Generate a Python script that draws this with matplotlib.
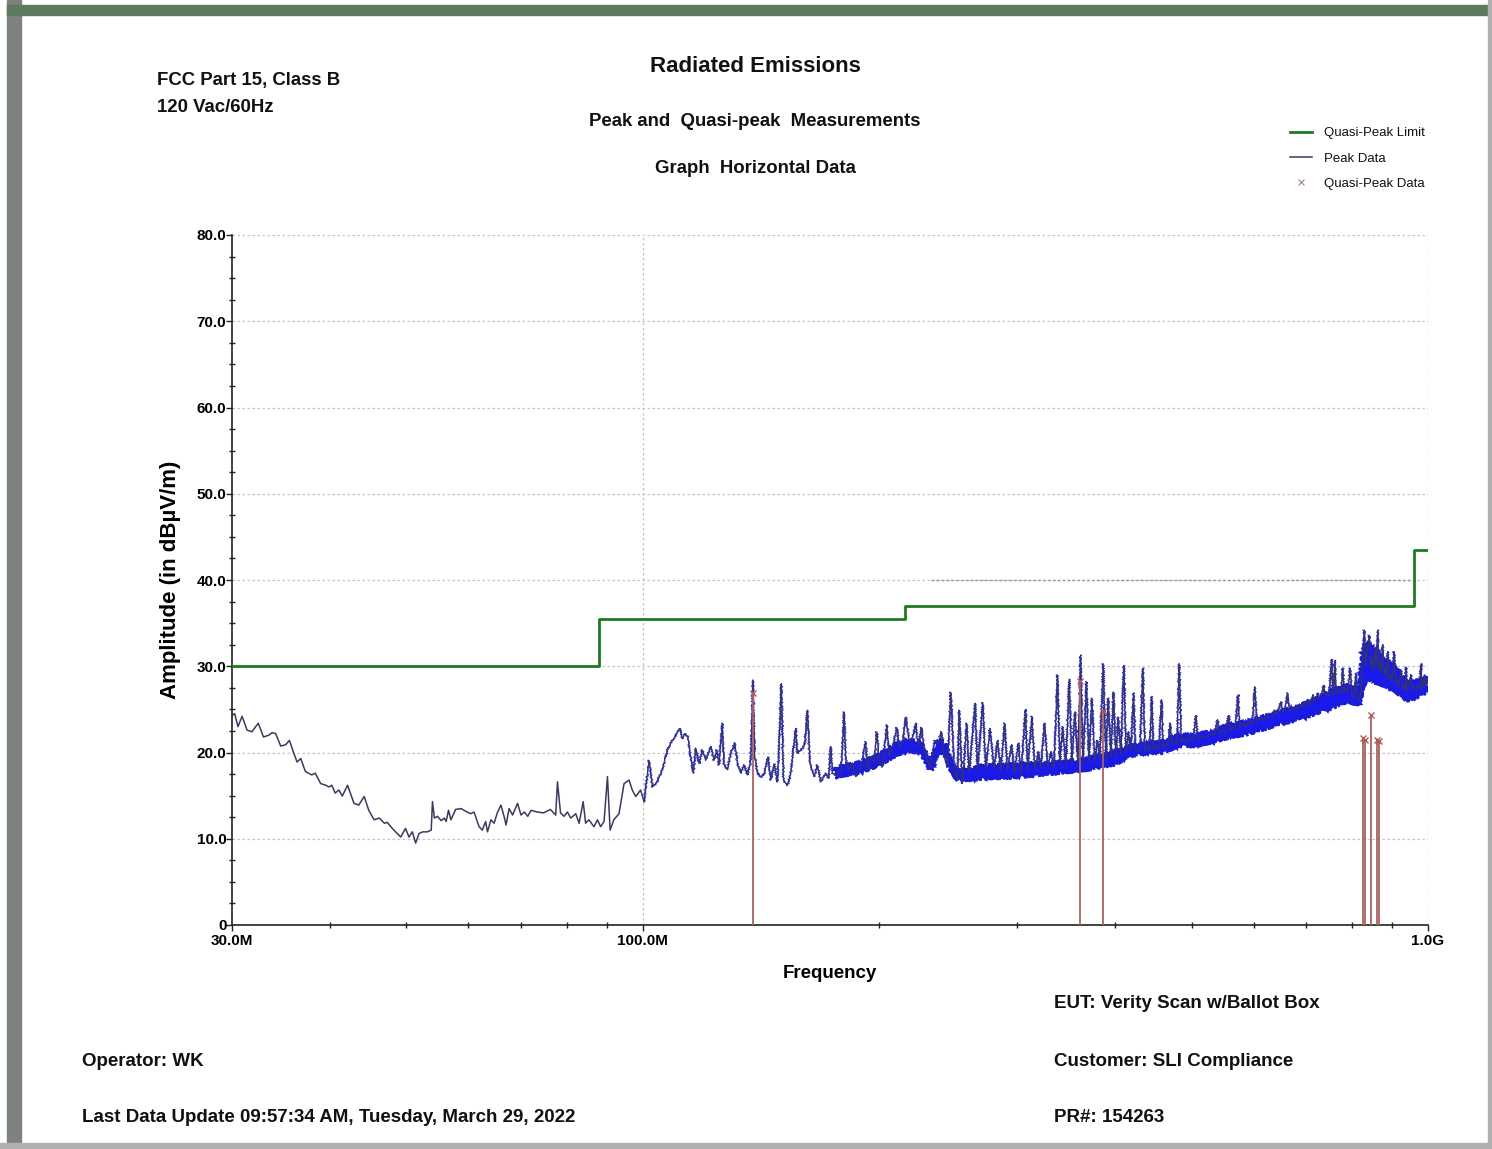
import matplotlib
matplotlib.use('Agg')
import matplotlib.pyplot as plt
from matplotlib.lines import Line2D
from matplotlib.patches import Rectangle, Polygon
from matplotlib.ticker import FixedLocator, FixedFormatter, NullFormatter

FONT = ['Liberation Sans', 'DejaVu Sans']
plt.rcParams['font.family'] = FONT

# ---------------- data ----------------
limit_freq = [30, 88, 216, 960, 1000]
limit_amp = [30.0, 35.5, 37.0, 43.5, 43.5]

peak_freq = [
    30.0, 30.24, 30.53, 30.9, 31.35, 31.8, 32.4, 32.9, 33.4, 33.75, 34.1, 34.6, 35.1, 35.5,
    35.97, 36.3, 36.7, 37.2, 37.9, 38.3, 38.9, 39.5, 39.85, 40.2, 40.6, 41.05, 41.45, 42.1,
    42.9, 43.5, 44.2, 44.8, 45.5, 46.2, 46.9, 47.3, 48.0, 48.7, 49.2, 49.9, 50.4, 50.9, 51.4,
    51.9, 52.5, 53.2, 53.8, 54.0, 54.3, 54.8, 55.4, 55.9, 56.2, 56.6, 57.0, 57.8, 58.7, 59.5,
    60.4, 61.0, 61.9, 62.5, 63.1, 63.45, 64.1, 64.7, 65.3, 66.0, 66.7, 67.0, 67.6, 68.3, 69.3,
    70.0, 70.7, 71.4, 72.1,
    73.4, 74.8, 76.3, 77.5, 77.9, 78.6, 79.4, 80.2, 81.0, 82.2, 83.0, 84.0, 84.6, 85.4, 86.7,
    87.6, 88.4, 89.3, 90.2, 90.9, 91.9, 93.3, 94.7, 96.1, 97.0, 98.0, 99.4, 100.4, 101.9,
    102.9, 104.4, 105.9, 107.5, 108.6, 110.2, 111.6, 112.3, 113.1, 114.2, 115.1, 116.0, 116.8,
    118.0, 119.1, 120.3, 122.1, 123.3, 124.3, 125.1, 126.3, 126.9, 128.2, 129.5, 131.0, 132.3,
    133.3, 134.6, 136.0, 137.3, 138.2, 138.9, 140.0, 141.4, 142.7, 144.4, 145.6, 147.0, 148.5,
    150.2, 151.1, 152.9, 154.4, 156.6, 157.4, 159.7, 160.8, 162.1, 163.4, 165.3, 166.9, 168.6,
    171.1, 172.5, 173.6,
    174.5, 177.0, 179.0, 180.5, 181.4, 183.1, 185.0, 186.8, 189.5, 192.3, 193.3, 195.2, 197.0,
    198.7, 200.0, 202.0, 204.6, 206.0, 208.0, 210.7, 212.1, 214.2, 216.3, 218.4, 220.8, 222.7,
    224.2, 226.5, 228.2, 230.5, 232.7, 235.5, 237.8, 240.2, 242.0, 244.4, 246.8, 249.2, 251.7,
    252.9, 255.4, 258.6, 260.4, 265.0, 266.9, 271.1, 273.5, 276.9, 280.2, 283.0, 285.8, 288.9,
    291.5, 294.9, 297.2, 301.0, 303.0, 307.3, 309.1, 313.0, 315.8, 318.9, 321.4, 324.9, 328.0,
    330.9, 333.9, 337.5, 339.8, 342.5, 345.9, 349.2, 352.0, 355.1, 358.2, 361.1, 363.5, 367.5,
    370.0, 373.3, 376.5, 379.5, 382.1, 385.8, 388.9, 391.5, 394.7, 397.8, 400.4, 403.2, 406.4,
    409.9, 412.4, 415.6, 418.5,
    421.8, 424.0, 427.2, 430.0, 433.4, 436.0, 438.6, 442.0, 445.0, 447.0, 450.3, 454.0, 457.9,
    460.0, 463.7, 466.0, 469.6, 472.0, 476.1, 479.0, 482.2, 485.0, 488.9, 492.0, 496.1, 501.9,
    506.5, 509.0, 513.8, 521.5, 529.2, 535.0, 539.7, 542.0, 548.2, 552.0, 557.4, 560.0, 564.5,
    568.0, 572.9, 576.0, 581.2, 586.0, 591.6, 597.0, 602.0, 605.0, 612.8, 618.0, 623.6, 630.0,
    635.0, 638.4, 642.0, 649.7, 653.0, 657.0, 662.7, 666.0, 671.2, 675.0, 678.9, 682.0, 687.0,
    691.0, 695.7, 700.0, 705.4, 709.0, 713.1, 716.0, 720.0, 723.7, 727.0, 730.7, 736.5, 740.0,
    743.6, 748.0, 754.0, 757.0, 761.3, 764.0, 770.3, 775.0, 778.7, 782.0, 786.3, 790.0, 796.2,
    800.0, 804.0, 809.7, 813.0, 816.8, 821.5, 825.0, 829.7, 833.0, 836.2, 841.8, 845.0, 848.6,
    852.0, 856.1, 859.0, 862.9, 866.0, 868.8, 872.0, 875.7, 879.0, 881.5, 885.0, 888.7, 892.0,
    897.3, 900.0, 906.0, 909.0, 913.2, 918.0, 923.9, 928.0, 932.1, 935.0, 937.6, 941.0, 945.0,
    951.4, 955.0, 959.9, 965.0, 971.3, 975.0, 979.8, 983.0, 986.0, 989.3, 993.0, 997.1, 1000.0,
]
peak_amp = [
    24.3, 24.5, 23.0, 24.2, 22.6, 22.4, 23.4, 21.8, 22.0, 22.3, 22.2, 20.75, 20.9, 21.4,
    19.9, 18.9, 19.3, 17.8, 17.4, 17.6, 16.4, 16.2, 16.0, 16.2, 15.3, 15.65, 14.95, 16.2,
    14.1, 13.9, 14.9, 13.3, 12.2, 12.4, 11.8, 11.9, 11.2, 10.6, 10.2, 11.2, 10.2, 10.8, 9.5,
    10.6, 10.8, 10.8, 11.0, 14.3, 12.4, 12.6, 12.1, 12.4, 12.0, 13.3, 12.2, 13.4, 13.5, 13.2,
    12.9, 13.1, 11.4, 11.0, 12.0, 10.8, 12.2, 11.8, 13.0, 13.9, 12.4, 11.6, 13.5, 12.75, 14.1,
    12.75, 13.1, 12.6, 13.3,
    13.1, 13.0, 13.4, 12.75, 16.6, 13.0, 12.6, 13.1, 12.4, 12.9, 11.8, 14.3, 11.8, 12.2, 11.4,
    12.2, 11.4, 12.0, 17.2, 11.0, 12.2, 12.9, 16.4, 16.8, 15.65, 14.9, 15.65, 14.3, 19.1,
    16.0, 16.6, 18.0, 20.3, 21.1, 22.0, 22.8, 21.6, 22.2, 21.8, 19.5, 17.6, 20.5,
    18.7, 20.3, 19.1, 20.7, 19.1, 20.3, 18.55, 23.4, 18.7, 18.0, 19.9, 21.1, 18.35,
    17.6, 18.55, 17.4, 19.1, 28.4, 19.5, 17.6, 17.2, 17.4, 19.5, 16.8, 18.7, 16.6,
    28.0, 16.8, 16.2, 17.6, 22.8, 19.9, 20.5, 20.9, 24.9, 18.7, 17.2, 18.55, 16.6,
    17.6, 17.0, 20.7,
    17.6, 17.2, 18.0, 24.7, 19.1, 18.0, 18.8, 17.2, 18.2, 21.25, 18.0, 19.5, 18.8,
    22.4, 19.1, 18.35, 23.2, 19.7, 20.5, 22.9, 20.7, 21.1, 24.1, 21.4, 21.8, 23.4,
    20.7, 22.9, 20.3, 19.1, 18.2, 21.4, 21.1, 22.4, 19.5, 18.35, 27.0, 18.0, 16.8,
    24.9, 16.4, 23.4, 17.6, 25.7, 18.0, 25.8, 18.0, 22.8, 18.2, 21.4, 17.8, 23.4,
    18.0, 20.9, 17.6, 21.1, 17.4, 25.0, 17.8, 24.2, 18.0, 20.1, 18.2, 23.4, 18.4,
    20.1, 18.2, 29.0, 18.6, 23.0, 18.6, 28.5, 18.8, 24.7, 18.8, 31.3, 18.8, 28.2,
    19.0, 26.3, 19.0, 21.4, 19.2, 30.3, 19.0, 26.3, 19.4, 27.0, 19.4, 24.1, 19.8,
    30.1, 20.1, 22.4, 20.3,
    26.9, 20.3, 20.0, 20.6, 29.8, 20.3, 20.8, 20.2, 26.5, 20.4, 20.9, 20.5, 26.1,
    20.6, 21.1, 20.8, 23.4, 21.0, 21.3, 21.0, 30.3, 21.2, 21.6, 21.2, 21.8, 21.4,
    24.3, 21.6, 21.9, 21.7, 22.2, 22.0, 23.8, 22.1, 22.6, 22.2, 24.3, 22.5, 22.9,
    22.6, 26.7, 22.8, 23.3, 23.0, 23.6, 23.3, 27.6, 23.6, 24.0, 23.7, 24.3, 24.1,
    24.3, 24.9, 24.4, 25.9, 24.6, 24.9, 26.9, 24.8, 25.2, 24.9, 25.5, 25.0, 25.5,
    25.2, 25.9, 25.4, 26.0, 25.6, 26.7, 25.9, 26.2, 26.9, 26.3, 26.6, 27.8, 26.6,
    26.9, 26.5, 30.8, 26.7, 30.7, 26.8, 27.2, 26.9, 29.8, 27.0, 27.4, 27.0, 29.8,
    26.8, 26.2, 29.2, 26.5, 26.0, 27.0, 30.5, 34.2, 30.0, 31.5, 33.6, 30.0, 31.0,
    29.5, 32.0, 29.8, 34.2, 29.5, 30.5, 29.3, 32.5, 29.0, 29.8, 28.6, 31.7, 28.5,
    29.0, 28.2, 31.7, 28.0, 28.5, 27.6, 29.6, 27.3, 27.8, 27.2, 29.9, 27.2, 27.6,
    29.0, 27.3, 27.7, 27.2, 27.8, 27.4, 30.3, 27.4, 27.8, 29.0, 27.6, 28.6, 28.3,
]

# dense noise band of the peak trace (read envelope)
band_freq = [176, 190, 200, 212, 218, 226, 230, 233, 238, 243, 246, 252, 270, 300, 330, 360,
             400, 420, 440, 457, 482, 506, 530, 557, 590, 620, 650, 680, 713, 754, 790, 818,
             826, 840, 860, 880, 900, 925, 940, 965, 985, 1000]
band_lo = [17.2, 17.8, 18.6, 19.9, 20.2, 20.0, 18.6, 18.0, 20.2, 19.8, 18.2, 16.8, 17.0, 17.2,
           17.6, 17.9, 18.7, 19.7, 20.0, 20.0, 20.8, 20.8, 21.2, 21.8, 22.2, 22.8, 23.4, 23.8,
           24.4, 25.2, 26.0, 25.5, 27.7, 28.6, 28.0, 27.8, 27.4, 26.6, 26.1, 26.4, 26.8, 27.1]
band_hi = [18.2, 18.9, 19.7, 21.2, 21.4, 21.2, 19.6, 19.2, 21.4, 21.0, 19.4, 17.8, 18.4, 18.6,
           18.8, 19.1, 20.1, 20.8, 21.2, 21.2, 22.0, 22.0, 22.4, 23.2, 23.6, 24.2, 24.8, 25.3,
           26.0, 27.2, 27.8, 27.4, 31.8, 32.8, 31.8, 30.8, 30.2, 29.0, 28.1, 28.2, 28.5, 28.6]

qp_freq = [138.2, 360.3, 385.5, 825.8, 831.4, 845.9, 860.3, 865.4]
qp_amp = [26.9, 28.3, 24.8, 21.7, 21.5, 24.4, 21.5, 21.3]

# darker dotted segment on the 40 dB grid line
mark40_freq = [233, 950]
mark40_amp = 40.0

x_major = [30, 100, 1000]
x_major_labels = ['30.0M', '100.0M', '1.0G']
x_minor = [40, 50, 60, 70, 80, 90, 200, 300, 400, 500, 600, 700, 800, 900]
y_major = [0, 10, 20, 30, 40, 50, 60, 70, 80]
y_major_labels = ['0', '10.0', '20.0', '30.0', '40.0', '50.0', '60.0', '70.0', '80.0']

# ---------------- figure ----------------
W, H = 1492, 1149
fig = plt.figure(figsize=(W / 100, H / 100), dpi=100)
fig.patch.set_facecolor('white')


def fx(px):
    return px / W


def fy(py):
    return 1 - py / H


# window frame
fig.add_artist(Rectangle((fx(7), 0), fx(14), 1, transform=fig.transFigure,
                         color='#7e827e', zorder=0))
fig.add_artist(Rectangle((fx(7), fy(15)), 1, fy(5) - fy(15), transform=fig.transFigure,
                         color='#5e7a5e', zorder=0))
fig.add_artist(Rectangle((fx(1488), 0), fx(4), 1, transform=fig.transFigure,
                         color='#b0b0b0', zorder=0))
fig.add_artist(Rectangle((0, 0), 1, fy(1143), transform=fig.transFigure,
                         color='#b0b0b0', zorder=0))

ax = fig.add_axes([fx(232), fy(925), fx(1428) - fx(232), fy(235) - fy(925)])
ax.set_xscale('log')
ax.set_xlim(30, 1000)
ax.set_ylim(0, 80)
ax.set_facecolor('white')

# grid
grid_kw = dict(color='#c4c4c4', lw=0.9, ls=(0, (2, 2)), zorder=0.5)
for v in y_major[1:]:
    ax.axhline(v, **grid_kw)
for v in [100, 1000]:
    ax.axvline(v, **grid_kw)
ax.hlines(mark40_amp, mark40_freq[0], mark40_freq[1], color='#9a9a9a', lw=1.0,
          ls=(0, (2, 1.5)), zorder=0.6)

# limit
ax.plot(limit_freq, limit_amp, drawstyle='steps-post', color='#1e7a1e', lw=2.0, zorder=4)

# peak trace
split = next(i for i, f in enumerate(peak_freq) if f >= 100)
ax.plot(peak_freq[:split + 1], peak_amp[:split + 1], color='#3a3a60', lw=1.1, zorder=2)
hi_sketch, = ax.plot(peak_freq[split:], peak_amp[split:], color='#2a2ad8', lw=0.7, zorder=2)
hi_sketch.set_sketch_params(scale=1.3, length=2.0, randomness=2.0)

band_vertices = list(zip(band_freq, band_hi)) + list(zip(band_freq[::-1], band_lo[::-1]))
band = Polygon(band_vertices, closed=True, facecolor='#1a1aee', edgecolor='#1c1cd8',
               lw=1.6, zorder=2.5)
band.set_sketch_params(scale=2.5, length=2.5, randomness=2.0)
ax.add_patch(band)
ax.plot(peak_freq[split:], peak_amp[split:], color='#34346e', lw=0.9, zorder=2.6)

# quasi-peak data
ax.vlines(qp_freq, 0, qp_amp, color='#a86262', lw=1.3, zorder=3.5)
ax.plot(qp_freq, qp_amp, ls='none', marker='x', ms=5, mew=1.0, color='#b05858', zorder=5)

# axes styling
for s in ['top', 'right']:
    ax.spines[s].set_visible(False)
for s in ['left', 'bottom']:
    ax.spines[s].set_color('#222222')
    ax.spines[s].set_linewidth(1.2)

ax.xaxis.set_major_locator(FixedLocator(x_major))
ax.xaxis.set_major_formatter(FixedFormatter(x_major_labels))
ax.xaxis.set_minor_locator(FixedLocator(x_minor))
ax.xaxis.set_minor_formatter(NullFormatter())
ax.yaxis.set_major_locator(FixedLocator(y_major))
ax.yaxis.set_major_formatter(FixedFormatter(y_major_labels))
ax.yaxis.set_minor_locator(FixedLocator([v * 2.5 for v in range(33) if v % 4]))

ax.tick_params(axis='both', which='major', direction='out', length=4, width=1.0,
               color='#222222', labelsize=11)
ax.tick_params(axis='y', which='major', pad=0)
ax.tick_params(axis='x', which='major', pad=2.5)
ax.tick_params(axis='both', which='minor', direction='inout', length=5, width=1.0,
               color='#222222')
for lab in ax.get_xticklabels() + ax.get_yticklabels():
    lab.set_fontweight('bold')

ax.set_ylabel('Amplitude (in dBµV/m)', fontsize=16, fontweight='bold', labelpad=11)
ax.set_xlabel('Frequency', fontsize=13.5, fontweight='bold', labelpad=12)

# titles and header text
tk = dict(fontweight='bold', color='#111111')
fig.text(fx(755), fy(67), 'Radiated Emissions', ha='center', va='center', fontsize=16, **tk)
fig.text(fx(755), fy(121), 'Peak and  Quasi-peak  Measurements', ha='center', va='center',
         fontsize=13.4, **tk)
fig.text(fx(755), fy(168), 'Graph  Horizontal Data', ha='center', va='center', fontsize=13.4, **tk)
fig.text(fx(157), fy(80), 'FCC Part 15, Class B', ha='left', va='center', fontsize=13.4, **tk)
fig.text(fx(157), fy(108), '120 Vac/60Hz', ha='left', va='center', fontsize=13.4, **tk)

fig.text(fx(1054), fy(1004), 'EUT: Verity Scan w/Ballot Box', ha='left', va='center',
         fontsize=13.5, **tk)
fig.text(fx(82), fy(1061), 'Operator: WK', ha='left', va='center', fontsize=13.5, **tk)
fig.text(fx(1054), fy(1061), 'Customer: SLI Compliance', ha='left', va='center', fontsize=13.5,
         **tk)
fig.text(fx(82), fy(1118), 'Last Data Update 09:57:34 AM, Tuesday, March 29, 2022', ha='left',
         va='center', fontsize=13.5, **tk)
fig.text(fx(1054), fy(1118), 'PR#: 154263', ha='left', va='center', fontsize=13.5, **tk)

# legend
handles = [Line2D([], [], color='#1e7a1e', lw=2.0),
           Line2D([], [], color='#3a3a60', lw=1.1),
           Line2D([], [], ls='none', marker='x', ms=4, mew=0.8, color='#b08080')]
leg = fig.legend(handles, ['Quasi-Peak Limit', 'Peak Data', 'Quasi-Peak Data'],
                 loc='upper left', bbox_to_anchor=(fx(1290), fy(127)), frameon=False,
                 fontsize=9.5, handlelength=1.7, handletextpad=0.85, labelspacing=1.0,
                 borderpad=0, borderaxespad=0)
for t in leg.get_texts():
    t.set_color('#111111')

fig.savefig('out.png', dpi=100, facecolor='white')
